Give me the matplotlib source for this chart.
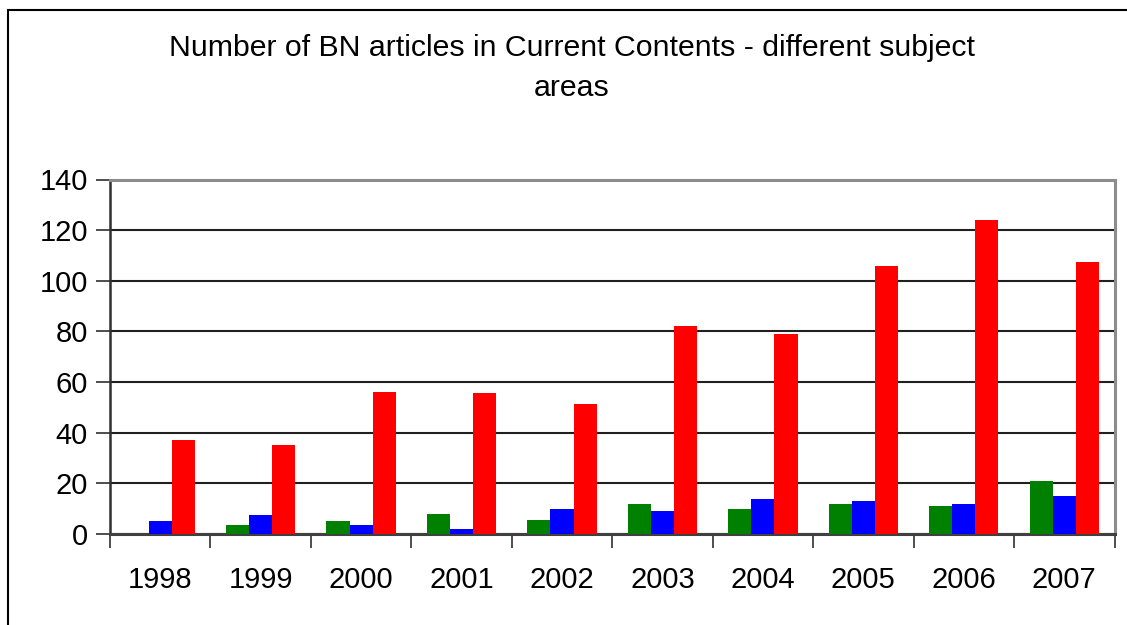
import numpy as np
import matplotlib
matplotlib.use("Agg")
import matplotlib.pyplot as plt
from matplotlib.patches import Rectangle

plt.rcParams["font.family"] = ["Liberation Sans", "DejaVu Sans"]

# data
years = ["1998", "1999", "2000", "2001", "2002", "2003", "2004", "2005", "2006", "2007"]
green_vals = [0, 3.5, 5, 8, 5.5, 12, 10, 12, 11, 21]
blue_vals = [5, 7.5, 3.5, 2, 10, 9, 14, 13, 12, 15]
red_vals = [37, 35, 56, 55.5, 51.5, 82, 79, 106, 124, 107.5]

series = [(green_vals, "#008000"), (blue_vals, "#0000ff"), (red_vals, "#ff0000")]

fig = plt.figure(figsize=(11.27, 6.25), dpi=100)
ax = fig.add_axes([110 / 1127, 1 - 534 / 625, (1114.5 - 110) / 1127, (534 - 179.5) / 625])

x = np.arange(len(years))
w = 0.23
for i, (vals, col) in enumerate(series):
    ax.bar(x + (i - 1) * w, vals, width=w, color=col, edgecolor="none", zorder=3)

ax.set_xlim(-0.5, len(years) - 0.5)
ax.set_ylim(0, 140)
ax.set_yticks(np.arange(0, 141, 20))
ax.yaxis.grid(True, color="#202020", linewidth=1.5, zorder=1)
ax.set_axisbelow(True)

# category labels centred, tick marks between categories
ax.set_xticks(x)
ax.set_xticklabels(years, fontsize=21)
ax.set_xticks(np.arange(-0.5, len(years)), minor=True)
ax.tick_params(axis="x", which="major", length=0, pad=23)
ax.tick_params(axis="x", which="minor", length=10, width=1.2, color="#303030")
ax.tick_params(axis="y", length=10, width=1.2, labelsize=21, pad=6, color="#303030")

for side in ("top", "right"):
    ax.spines[side].set_color("#8c8c8c")
    ax.spines[side].set_linewidth(2.2)
ax.spines["left"].set_color("#303030")
ax.spines["left"].set_linewidth(1.8)
ax.spines["bottom"].set_color("#404040")
ax.spines["bottom"].set_linewidth(2.2)

fig.text(572 / 1127, 1 - 48 / 625, "Number of BN articles in Current Contents - different subject",
         ha="center", va="center", fontsize=21.8)
fig.text(572 / 1127, 1 - 88 / 625, "areas", ha="center", va="center", fontsize=21.8)

# outer chart border (runs off the right and bottom of the image)
fig.patches.append(Rectangle((8 / 1127, -0.1), 1.2, 1 - 10 / 625 + 0.1, transform=fig.transFigure,
                             fill=False, edgecolor="black", linewidth=1.5))

fig.savefig("out.png", dpi=100)
